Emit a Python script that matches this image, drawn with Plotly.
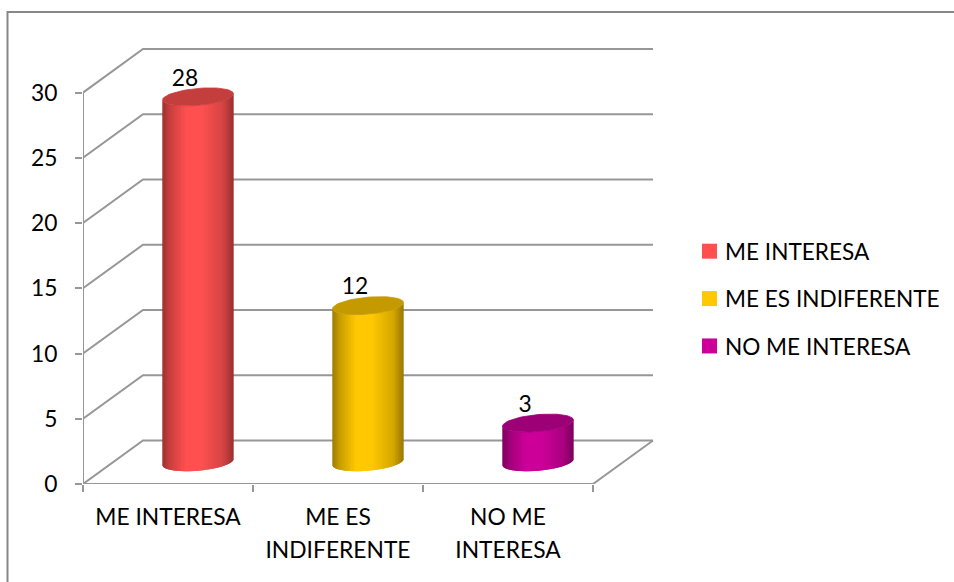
import math
import plotly.graph_objects as go

# Survey counts
categories = ["ME INTERESA", "ME ES INDIFERENTE", "NO ME INTERESA"]
tick_labels = ["ME INTERESA", "ME ES<br>INDIFERENTE", "NO ME<br>INTERESA"]
values = [28, 12, 3]
base_colors = [(255, 80, 80), (255, 200, 0), (204, 0, 153)]
y_ticks = [0, 5, 10, 15, 20, 25, 30]

FONT = "Lato"
TEXT_SIZE = 22.8
LEGEND_SIZE = 22.6
GRID = "#979797"
FRAME = "#878787"

W, H = 954, 582
PX_PER_CAT = 170
PX_PER_UNIT = 13.03
PAD = 4  # spare room so the outermost wall lines are not clipped
M_L, M_R, M_T, M_B = 83, 301 - PAD, 49 - PAD, 98

# Oblique projection of the depth axis, in axis units
DEPTH_X = 60 / PX_PER_CAT
DEPTH_Y = 43.5 / PX_PER_UNIT
X_MAX = 3 + DEPTH_X
Y_MAX = 30 + DEPTH_Y

# Cylinder cross-section: half width, shear and half depth
RAD_X = 33.4 / PX_PER_CAT
RAD_SHEAR = 12 / PX_PER_CAT
RAD_Y = 9 / PX_PER_UNIT
N_STRIPS = 44

# Brightness across the cylinder face, left to right
SHADE_STOPS = [(0.0, 0.62), (0.10, 0.78), (0.33, 1.0), (0.55, 1.0), (0.85, 0.84), (1.0, 0.60)]


def shade_at(u):
    for (u0, s0), (u1, s1) in zip(SHADE_STOPS, SHADE_STOPS[1:]):
        if u <= u1:
            return s0 + (s1 - s0) * (u - u0) / (u1 - u0)
    return SHADE_STOPS[-1][1]


def rgb(color, factor):
    return "rgb({},{},{})".format(*[round(c * factor) for c in color])


def rim(cx, cy, t):
    return cx + RAD_X * math.cos(t) + RAD_SHEAR * math.sin(t), cy + RAD_Y * math.sin(t)


fig = go.Figure()

# Back wall and side wall gridlines
wall_x, wall_y = [], []
for v in y_ticks:
    wall_x += [0, DEPTH_X, X_MAX, None]
    wall_y += [v, v + DEPTH_Y, v + DEPTH_Y, None]
wall_x += [3, X_MAX, None]
wall_y += [0, DEPTH_Y, None]
fig.add_trace(go.Scatter(x=wall_x, y=wall_y, mode="lines", line=dict(color=GRID, width=2),
                         showlegend=False, hoverinfo="skip", cliponaxis=False))

# Front axis lines
fig.add_trace(go.Scatter(x=[0, 0, None, 0, 3], y=[0, 30, None, 0, 0], mode="lines",
                         line=dict(color=GRID, width=2), showlegend=False,
                         hoverinfo="skip", cliponaxis=False))

# Cylinders: overlapping shaded strips painted right to left, then the darker top face
t_edge = math.atan2(RAD_SHEAR, RAD_X)
for i, (value, color) in enumerate(zip(values, base_colors)):
    cx = i + 0.5 + DEPTH_X / 2
    floor = DEPTH_Y / 2
    top = floor + value
    half = math.hypot(RAD_X, RAD_SHEAR)
    for s in range(N_STRIPS):
        angles = [t_edge - math.pi * k / N_STRIPS for k in range(s, min(s + 3, N_STRIPS + 1))]
        lower = [rim(cx, floor, t) for t in angles]
        upper = [rim(cx, top, t) for t in reversed(angles)]
        outline = lower + upper + lower[:1]
        u = ((lower[0][0] + lower[1][0]) / 2 - (cx - half)) / (2 * half)
        fig.add_trace(go.Scatter(x=[p[0] for p in outline], y=[p[1] for p in outline],
                                 mode="lines", fill="toself", fillcolor=rgb(color, shade_at(u)),
                                 line=dict(width=0), showlegend=False,
                                 hoverinfo="skip", cliponaxis=False))
    cap = [rim(cx, top, 2 * math.pi * k / 72) for k in range(73)]
    fig.add_trace(go.Scatter(x=[p[0] for p in cap], y=[p[1] for p in cap], mode="lines",
                             fill="toself", fillcolor=rgb(color, 0.77),
                             line=dict(color=rgb(color, 0.77), width=0.8),
                             showlegend=False, hoverinfo="skip", cliponaxis=False))

# Value labels above each cylinder
fig.add_trace(go.Scatter(
    x=[i + 0.5 + DEPTH_X / 2 - 13 / PX_PER_CAT for i in range(len(values))],
    y=[v + DEPTH_Y / 2 + 17 / PX_PER_UNIT for v in values],
    mode="text", text=[str(v) for v in values], textposition="middle center",
    textfont=dict(family=FONT, size=TEXT_SIZE, color="black"), showlegend=False,
    hoverinfo="skip", cliponaxis=False))

# Legend entries
for name, color in zip(categories, base_colors):
    fig.add_trace(go.Scatter(x=[None], y=[None], mode="markers", name=name, legendgroup=name,
                             marker=dict(symbol="square", size=15, color=rgb(color, 1),
                                         angle=90, standoff=4.5)))

# A larger base size on the category labels sets their wider line spacing
span_open = f'<span style="font-size:{TEXT_SIZE}px">'
category_ticktext = [span_open + t.replace("<br>", "</span><br>" + span_open) + "</span>"
                     for t in tick_labels]

fig.update_layout(
    width=W, height=H,
    margin=dict(l=M_L, r=M_R, t=M_T, b=M_B, autoexpand=False),
    paper_bgcolor="white", plot_bgcolor="white",
    font=dict(family=FONT, size=TEXT_SIZE, color="black"),
    xaxis=dict(
        range=[0, X_MAX + PAD / PX_PER_CAT], showgrid=False, zeroline=False, showline=False,
        tickmode="array", tickvals=[0.5, 1.5, 2.5], ticktext=category_ticktext,
        ticks="", tickfont=dict(family=FONT, size=25, color="black"), ticklabelstandoff=15,
        minor=dict(tickmode="array", tickvals=[0, 1, 2, 3], ticks="outside", ticklen=7,
                   tickwidth=2, tickcolor=GRID, showgrid=False),
    ),
    yaxis=dict(
        range=[0, Y_MAX + PAD / PX_PER_UNIT], showgrid=False, zeroline=False, showline=False,
        tickmode="array", tickvals=y_ticks, ticks="outside", ticklen=7, tickwidth=2,
        tickcolor=GRID, tickfont=dict(family=FONT, size=TEXT_SIZE, color="black"),
        ticklabelstandoff=13,
    ),
    legend=dict(xref="container", yref="container", x=685 / W, y=1 - 230 / H,
                xanchor="left", yanchor="top", tracegroupgap=15, itemclick=False,
                font=dict(family=FONT, size=LEGEND_SIZE, color="black"), bgcolor="rgba(0,0,0,0)"),
    shapes=[dict(type="path", xref="paper", yref="paper", layer="below",
                 path="M {x0} {y1} L {x0} {y0} L {x1} {y0}".format(
                     x0=(7.5 - M_L) / (W - M_L - M_R),
                     x1=(W + 5 - M_L) / (W - M_L - M_R),
                     y0=1 + (M_T - 12) / (H - M_T - M_B),
                     y1=-(M_B + 5) / (H - M_T - M_B)),
                 line=dict(color=FRAME, width=2))],
)

fig.write_html("out.html")
